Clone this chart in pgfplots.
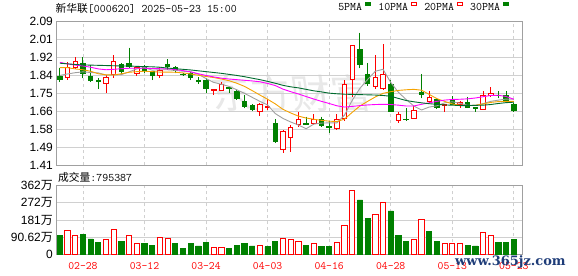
\documentclass[border=0pt]{standalone}
\usepackage{fontspec}
\setmainfont{Liberation Sans}
\newfontfamily\cjk{Noto Sans CJK SC}
\newfontfamily\wmfont{DejaVu Serif}
\usepackage{pgfplots}
\pgfplotsset{compat=1.18}
\usepackage{pgfplotstable}
\usepgfplotslibrary{statistics}

\definecolor{cred}{HTML}{FF0000}
\definecolor{cgreen}{HTML}{008000}
\definecolor{cma5}{HTML}{A0A0A0}
\definecolor{cma10}{HTML}{F5A200}
\definecolor{cma20}{HTML}{FF00FF}
\definecolor{cma30}{HTML}{006B2E}
\definecolor{cframe}{HTML}{A0A0A0}
\definecolor{cgrid}{HTML}{D0D0D0}
\definecolor{cwm}{HTML}{1E3C78}

\newcommand\mfont{\fontsize{11.6}{12}\selectfont\ttfamily}

% daily K-line data: index, open, high, low, close, MA5, MA10, MA20, MA30
\pgfplotstableread{
i o h l c m5 m10 m20 m30
0 1.832 1.872 1.805 1.815 1.835 1.872 1.897 1.893
1 1.826 1.900 1.813 1.872 1.842 1.872 1.890 1.890
2 1.872 1.921 1.866 1.900 1.848 1.866 1.884 1.887
3 1.893 1.921 1.821 1.845 1.852 1.862 1.880 1.885
4 1.832 1.885 1.805 1.813 1.849 1.855 1.874 1.884
5 1.813 1.824 1.771 1.805 1.847 1.843 1.866 1.883
6 1.798 1.837 1.753 1.824 1.837 1.838 1.862 1.882
7 1.842 1.932 1.824 1.900 1.837 1.837 1.864 1.881
8 1.885 1.893 1.837 1.853 1.839 1.843 1.867 1.880
9 1.893 1.967 1.872 1.877 1.852 1.850 1.869 1.880
10 1.845 1.881 1.832 1.874 1.866 1.853 1.869 1.878
11 1.880 1.885 1.848 1.860 1.873 1.855 1.869 1.877
12 1.853 1.858 1.813 1.837 1.860 1.853 1.868 1.876
13 1.837 1.874 1.824 1.861 1.862 1.851 1.867 1.874
14 1.885 1.913 1.861 1.877 1.862 1.851 1.866 1.870
15 1.874 1.880 1.845 1.858 1.859 1.850 1.863 1.867
16 1.842 1.848 1.832 1.840 1.855 1.847 1.858 1.864
17 1.843 1.853 1.813 1.824 1.852 1.842 1.852 1.861
18 1.810 1.826 1.795 1.806 1.841 1.836 1.843 1.857
19 1.810 1.824 1.753 1.771 1.820 1.830 1.835 1.853
20 1.762 1.768 1.742 1.768 1.802 1.825 1.828 1.849
21 1.765 1.805 1.762 1.794 1.793 1.818 1.822 1.845
22 1.778 1.780 1.753 1.775 1.783 1.810 1.818 1.840
23 1.761 1.766 1.720 1.726 1.767 1.798 1.815 1.835
24 1.710 1.742 1.679 1.686 1.750 1.783 1.812 1.829
25 1.692 1.700 1.665 1.674 1.731 1.763 1.809 1.822
26 1.663 1.703 1.644 1.698 1.712 1.742 1.805 1.815
27 1.685 1.722 1.671 1.690 1.695 1.722 1.797 1.807
28 1.608 1.627 1.519 1.521 1.654 1.700 1.787 1.798
29 1.485 1.576 1.468 1.571 1.631 1.674 1.770 1.788
30 1.541 1.600 1.470 1.589 1.614 1.657 1.758 1.781
31 1.603 1.660 1.592 1.627 1.600 1.642 1.747 1.776
32 1.606 1.640 1.600 1.604 1.582 1.633 1.735 1.769
33 1.608 1.652 1.600 1.627 1.604 1.627 1.723 1.762
34 1.627 1.640 1.592 1.600 1.609 1.622 1.712 1.757
35 1.595 1.618 1.563 1.590 1.610 1.618 1.702 1.751
36 1.584 1.652 1.576 1.627 1.610 1.616 1.691 1.748
37 1.632 1.813 1.619 1.793 1.647 1.628 1.685 1.746
38 1.817 1.975 1.734 1.975 1.717 1.660 1.688 1.745
39 1.959 2.038 1.869 1.885 1.774 1.690 1.692 1.744
40 1.842 1.895 1.785 1.798 1.816 1.712 1.695 1.743
41 1.782 1.932 1.771 1.824 1.855 1.733 1.697 1.742
42 1.774 1.983 1.766 1.840 1.864 1.750 1.698 1.740
43 1.794 1.813 1.663 1.663 1.802 1.758 1.697 1.736
44 1.620 1.663 1.608 1.652 1.755 1.764 1.694 1.726
45 1.628 1.680 1.624 1.625 1.721 1.767 1.690 1.716
46 1.632 1.690 1.632 1.670 1.690 1.769 1.690 1.710
47 1.756 1.842 1.726 1.745 1.671 1.765 1.698 1.705
48 1.710 1.761 1.706 1.731 1.685 1.745 1.705 1.701
49 1.723 1.730 1.678 1.682 1.691 1.725 1.712 1.698
50 1.693 1.697 1.663 1.695 1.705 1.712 1.718 1.695
51 1.722 1.737 1.695 1.698 1.710 1.700 1.721 1.694
52 1.695 1.714 1.682 1.708 1.703 1.693 1.722 1.692
53 1.708 1.734 1.680 1.684 1.693 1.692 1.724 1.692
54 1.682 1.682 1.663 1.678 1.693 1.693 1.728 1.693
55 1.674 1.761 1.674 1.739 1.701 1.700 1.734 1.694
56 1.742 1.782 1.734 1.750 1.712 1.707 1.740 1.697
57 1.742 1.761 1.726 1.738 1.718 1.711 1.741 1.702
58 1.742 1.761 1.708 1.710 1.723 1.712 1.735 1.706
59 1.698 1.703 1.663 1.671 1.722 1.712 1.722 1.708
}\kdata

% volume (10^4 shares), red = up days, green = down days
\pgfplotstableread{
i v
1 127
2 102
6 76
7 132
9 100
10 58
13 90
14 85
20 37
21 37
26 48
29 84
30 76
31 70
33 55
36 60
37 150
38 335
41 213
42 275
46 76
47 185
50 55
51 55
52 58
55 114
56 102
}\volup
\pgfplotstableread{
i v
0 97
3 107
4 81
5 60
8 70
11 55
12 49
15 55
16 33
17 55
18 44
19 60
22 33
23 49
24 55
25 44
27 39
28 70
32 49
34 39
35 39
39 287
40 187
43 229
44 97
45 70
48 123
49 70
53 49
54 44
57 65
58 60
59 79.5
}\voldn

\pgfplotsset{
  upbox/.style={draw=cred, fill=white, line width=0.9bp, solid},
  dnbox/.style={draw=cgreen, fill=cgreen, line width=0.9bp, solid},
  kframe/.style={
    scale only axis, width=466.3bp,
    xmin=-0.5, xmax=60.1,
    axis line style={draw=cframe, line width=1bp},
    major tick length=0pt, tick style={draw=none},
    xmajorgrids, ymajorgrids,
    x grid style={cgrid, line width=0.8bp, dash pattern=on 3bp off 3bp},
    y grid style={cgrid, line width=0.8bp},
    xtick={3,11,19,27,35,43,51,59},
    yticklabel style={font=\fontsize{12}{12}\selectfont, text=black, inner sep=0pt, xshift=-3bp},
  }
}

\newcommand\candle[5]{%
  \ifdim #5pt<#2pt\relax
    \def\cst{dnbox}\def\cLo{#5}\def\cHi{#2}%
  \else
    \def\cst{upbox}\def\cLo{#2}\def\cHi{#5}%
  \fi
  \edef\next{\noexpand\addplot[\cst, boxplot prepared={draw position=#1, lower whisker=#4, lower quartile=\cLo, median=\cLo, upper quartile=\cHi, upper whisker=#3}] coordinates {};}%
  \next}

\begin{document}
\begin{tikzpicture}
\path[use as bounding box] (0bp,0bp) rectangle (578bp,-276bp);

% faint site watermark
\node[text=black!9, font=\fontsize{40}{40}\selectfont\cjk, xslant=-0.15] at (291bp,-93bp) {东方财富};

% title
\node[anchor=base west, inner sep=0pt] at (55.5bp,-12.3bp) {\fontsize{10.8}{12}\selectfont\cjk 新华联\mfont[000620] 2025-05-23 15:00};

\begin{axis}[
  kframe,
  at={(56bp,-165bp)}, anchor=south west, height=143.3bp,
  ymin=1.41, ymax=2.09,
  xticklabels={,,,,,,,},
  ytick={1.41,1.495,1.58,1.665,1.75,1.835,1.92,2.005,2.09},
  yticklabels={1.41,1.49,1.58,1.66,1.75,1.84,1.92,2.01,2.09},
  boxplot/draw direction=y, boxplot/box extend=0.58, boxplot/whisker extend=0,
  legend columns=4, legend plot pos=right, legend cell align=left,
  legend style={draw=none, fill=none, inner sep=0pt, outer sep=0pt,
    at={(axis description cs:0.6054,1.0656)}, anchor=south west,
    font=\mfont, nodes={inner sep=0pt},
    /tikz/every even column/.append style={column sep=7bp}},
  legend image code/.code={\path (0bp,0bp); \fill[#1] (2.6bp,2.3bp) rectangle (8.3bp,5.6bp);},
]
\pgfplotsinvokeforeach{0,...,59}{%
  \pgfplotstablegetelem{#1}{o}\of\kdata\let\vo\pgfplotsretval
  \pgfplotstablegetelem{#1}{h}\of\kdata\let\vh\pgfplotsretval
  \pgfplotstablegetelem{#1}{l}\of\kdata\let\vl\pgfplotsretval
  \pgfplotstablegetelem{#1}{c}\of\kdata\let\vc\pgfplotsretval
  \candle{#1}{\vo}{\vh}{\vl}{\vc}%
}
\addplot[color=cma5, line width=0.9bp, mark=none] table[x=i, y=m5] {\kdata};
\addlegendentry{5PMA}
\addplot[color=cma10, line width=0.9bp, mark=none] table[x=i, y=m10] {\kdata};
\addlegendentry{10PMA}
\addplot[color=cma20, line width=0.9bp, mark=none] table[x=i, y=m20] {\kdata};
\addlegendentry{20PMA}
\addplot[color=cma30, line width=0.9bp, mark=none] table[x=i, y=m30] {\kdata};
\addlegendentry{30PMA}
\end{axis}

% volume panel
\node[anchor=base west, inner sep=0pt] at (58bp,-181.3bp) {\fontsize{10.8}{12}\selectfont\cjk 成交量\mfont:795387};

\begin{axis}[
  kframe,
  at={(56bp,-254.3bp)}, anchor=south west, height=68.6bp,
  ymin=0, ymax=362.5,
  xticklabels={02-28,03-12,03-24,04-03,04-16,04-28,05-13,05-23},
  xticklabel style={font=\fontsize{11.4}{12}\selectfont\ttfamily, text=cred, anchor=base, inner sep=0pt, yshift=-14.7bp},
  ytick={0,90.62,181.24,271.86,362.48},
  yticklabels={0,90.62{\cjk 万},181{\cjk 万},272{\cjk 万},362{\cjk 万}},
]
\addplot[ybar, bar width=0.68, bar shift=0pt, draw=cred, fill=white, line width=0.9bp] table[x=i, y=v] {\volup};
\addplot[ybar, bar width=0.68, bar shift=0pt, draw=cgreen, fill=cgreen, line width=0.9bp] table[x=i, y=v] {\voldn};
\end{axis}

% site watermark
\node[anchor=base west, inner sep=0pt, text=cwm, font=\fontsize{13}{13}\selectfont\wmfont\bfseries] at (455bp,-265bp) {www.365jz.com};
\end{tikzpicture}
\end{document}
